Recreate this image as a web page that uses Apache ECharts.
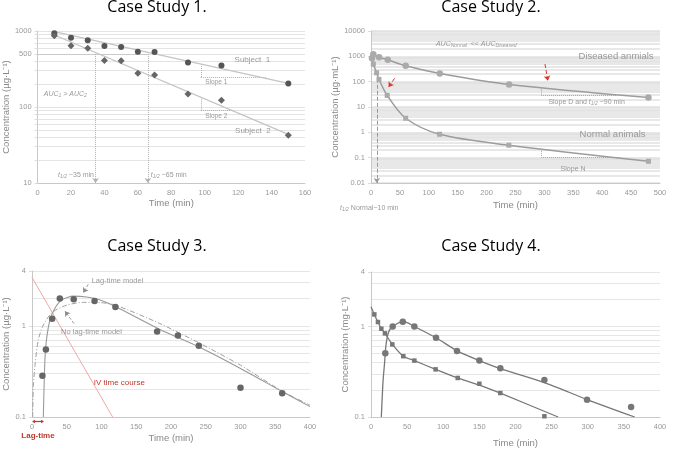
<!DOCTYPE html>
<html><head><meta charset="utf-8">
<script src="https://cdn.jsdelivr.net/npm/echarts@6/dist/echarts.min.js"></script>
<style>html,body{margin:0;padding:0;background:#fff}#c{width:685px;height:449px}</style>
</head><body><div id="c"></div>
<script>
// ---------- Case Study 1 ----------
const cs1Time = [10, 20, 30, 40, 50, 60, 70, 90, 110, 150];
const cs1Subject1 = [931, 817, 753, 634, 615, 534, 529, 386, 352, 204];
const cs1Subject2 = [868, 641, 591, 410, 406, 277, 263, 148, 123, 42.5];
const cs1FitTime = [10, 150];
const cs1Fit1 = [980, 205];
const cs1Fit2 = [886, 43.7];
const cs1YLabels = [10, 100, 500, 1000];

// ---------- Case Study 2 ----------
const cs2DisTime = [1.7, 4, 14, 29, 60, 119, 239, 480];
const cs2Diseased = [832, 1200, 912, 733, 424, 212, 78, 23.8];
const cs2DisFitTime = [4, 14, 29, 60, 119, 239, 480];
const cs2DisFit = [1200, 912, 733, 424, 212, 78, 23.8];
const cs2NorTime = [4, 9.7, 13.8, 28, 60, 118.6, 238.5, 480];
const cs2Normal = [495, 224, 123, 28.6, 3.6, 0.84, 0.31, 0.072];
const cs2NorFitTime = [1.7, 4, 9.7, 13.8, 28, 60, 118.6, 238.5, 480];
const cs2NorFit = [832, 495, 224, 123, 28.6, 3.6, 0.84, 0.31, 0.072];
const cs2YLabels = [0.01, 0.1, 1, 10, 100, 1000, 10000];

// ---------- Case Study 3 ----------
const cs3Time = [15, 20, 29, 40, 60, 90, 120, 180, 210, 240, 300, 360];
const cs3Conc = [0.283, 0.551, 1.20, 2.0, 1.96, 1.87, 1.61, 0.867, 0.784, 0.604, 0.21, 0.182];
const cs3LagTime = [16.3, 17.3, 18.7, 21.1, 25.9, 33, 42.7, 59.4, 78.6, 98, 120, 184, 240, 300, 360, 400];
const cs3LagFit = [0.1, 0.205, 0.44, 0.73, 1.16, 1.56, 1.92, 2.12, 2.07, 1.92, 1.63, 0.914, 0.589, 0.34, 0.19, 0.13];
const cs3NoLagTime = [1, 2, 4.3, 9, 16.3, 29.3, 50, 74, 98, 120, 184, 240, 300, 360, 400];
const cs3NoLagFit = [0.1, 0.223, 0.37, 0.70, 1.02, 1.41, 1.69, 1.81, 1.80, 1.69, 1.06, 0.652, 0.37, 0.192, 0.135];
const cs3IvTime = [0, 116];
const cs3IvFit = [3.4, 0.1];
const cs3YLabels = [0.1, 1, 4];

// ---------- Case Study 4 ----------
const cs4OralTime = [19.8, 30, 44, 60, 90, 119, 150, 179, 240, 299, 360];
const cs4Oral = [0.505, 1.0, 1.13, 1.0, 0.752, 0.536, 0.422, 0.345, 0.256, 0.155, 0.129];
const cs4IvTime = [4.6, 9.6, 14.3, 19.3, 29.5, 44.7, 60, 89.4, 120, 150, 179, 240];
const cs4Iv = [1.36, 1.12, 0.945, 0.84, 0.634, 0.47, 0.42, 0.336, 0.27, 0.233, 0.184, 0.102];
const cs4OralFitTime = [14.3, 16.6, 18.9, 20.7, 24.4, 30, 45, 60, 90, 120, 150, 180, 240, 300, 365];
const cs4OralFit = [0.1, 0.243, 0.405, 0.62, 0.87, 1.0, 1.14, 1.0, 0.75, 0.535, 0.42, 0.34, 0.24, 0.155, 0.1];
const cs4IvFitTime = [0, 4.6, 9.6, 14.3, 19.3, 29.5, 44.7, 60, 89.4, 120, 150, 180, 259];
const cs4IvFit = [1.65, 1.36, 1.12, 0.945, 0.84, 0.634, 0.47, 0.42, 0.336, 0.27, 0.225, 0.182, 0.1];
const cs4YLabels = [0.1, 1, 4];

// ---------- helpers ----------
const FONT = 'Liberation Sans';
const pairs = (xs, ys) => xs.map((x, i) => [x, ys[i]]);
function logGridValues(lo, hi) {
  const out = [];
  for (let e = Math.floor(Math.log10(lo)); e <= Math.ceil(Math.log10(hi)); e++) {
    for (let m = 1; m <= 9; m++) {
      const v = +(m * Math.pow(10, e)).toPrecision(6);
      if (v >= lo * 0.999 && v <= hi * 1.001) out.push(v);
    }
  }
  return out;
}
function gridSeries(idx, lo, hi, color, width) {
  return {
    type: 'line', xAxisIndex: idx, yAxisIndex: idx, data: [], z: 0, silent: true,
    markLine: {
      z: 0, silent: true, symbol: ['none', 'none'], animation: false, label: { show: false },
      lineStyle: { color: color, width: width || 1, type: 'solid' }, emphasis: { disabled: true },
      data: logGridValues(lo, hi).map(v => ({ yAxis: v }))
    }
  };
}
function xAx(idx, max, interval, nameGap) {
  return {
    type: 'value', gridIndex: idx, min: 0, max: max, interval: interval,
    name: 'Time (min)', nameLocation: 'middle', nameGap: nameGap,
    nameTextStyle: { color: '#888', fontSize: 9.5, fontFamily: FONT },
    axisLine: { lineStyle: { color: '#c8c8c8' } }, axisTick: { show: false }, splitLine: { show: false },
    axisLabel: { color: '#999', fontSize: 7.5, fontFamily: FONT, margin: 6 }
  };
}
function yAx(idx, min, max, labels, name, nameGap, tickVals) {
  return {
    type: 'log', logBase: 10, gridIndex: idx, min: min, max: max,
    name: name, nameLocation: 'middle', nameGap: nameGap,
    nameTextStyle: { color: '#888', fontSize: 9.5, fontFamily: FONT },
    axisLine: { show: true, lineStyle: { color: '#c8c8c8' } },
    axisTick: { show: true, length: 3, lineStyle: { color: '#ddd' }, customValues: tickVals },
    splitLine: { show: false },
    axisLabel: { color: '#999', fontSize: 7.5, fontFamily: FONT, margin: 6, customValues: labels, formatter: v => String(v) }
  };
}
const richTxt = {
  i: { fontStyle: 'italic', fontSize: 7, color: '#999', fontFamily: FONT },
  s: { fontStyle: 'italic', fontSize: 5, color: '#999', fontFamily: FONT, verticalAlign: 'bottom', padding: [3, 0, 0, 0] },
  n: { fontSize: 7, color: '#999', fontFamily: FONT }
};
function textPoints(idx, items, fontSize, color) {
  return {
    type: 'scatter', xAxisIndex: idx, yAxisIndex: idx, data: [], silent: true, z: 5,
    markPoint: {
      silent: true, symbol: 'circle', symbolSize: 0, animation: false,
      itemStyle: { color: 'transparent' },
      label: { show: true, position: 'inside', color: color, fontSize: fontSize, fontFamily: FONT, rich: richTxt },
      data: items.map(t => ({ coord: t.c, label: { formatter: t.t } }))
    }
  };
}
function lineMarks(idx, segs, style, endSymbol) {
  return {
    type: 'scatter', xAxisIndex: idx, yAxisIndex: idx, data: [], silent: true, z: 3,
    markLine: {
      z: 1, silent: true, animation: false, symbol: ['none', endSymbol || 'none'], symbolSize: 5,
      label: { show: false }, lineStyle: style, emphasis: { disabled: true },
      data: segs.map(s => [{ coord: s[0] }, { coord: s[1] }])
    }
  };
}
const titleStyle = { fontFamily: 'Open Sans', fontSize: 16, fontWeight: 'normal', color: '#000' };

const chart = echarts.init(document.getElementById('c'), null, { renderer: 'canvas' });
chart.setOption({
  animation: false,
  backgroundColor: '#fff',
  title: [
    { text: 'Case Study 1.', left: 157, top: -1, textAlign: 'center', padding: 0, textStyle: titleStyle },
    { text: 'Case Study 2.', left: 491, top: -1, textAlign: 'center', padding: 0, textStyle: titleStyle },
    { text: 'Case Study 3.', left: 157, top: 238, textAlign: 'center', padding: 0, textStyle: titleStyle },
    { text: 'Case Study 4.', left: 491, top: 238, textAlign: 'center', padding: 0, textStyle: titleStyle }
  ],
  grid: [
    { left: 31, top: 31, width: 274, height: 152 },
    { left: 371, top: 31, width: 289, height: 152 },
    { left: 32, top: 271, width: 278, height: 146 },
    { left: 371, top: 272, width: 289, height: 145 }
  ],
  xAxis: [xAx(0, 160, 20, 15), xAx(1, 500, 50, 17), xAx(2, 400, 50, 16), xAx(3, 400, 50, 21)],
  yAxis: [
    yAx(0, 10, 1000, cs1YLabels, 'Concentration (µg·L⁻¹)', 19, logGridValues(10, 1000)),
    yAx(1, 0.01, 10000, cs2YLabels, 'Concentration (µg·mL⁻¹)', 31, cs2YLabels),
    yAx(2, 0.1, 4, cs3YLabels, 'Concentration (µg·L⁻¹)', 19, cs3YLabels),
    yAx(3, 0.1, 4, cs4YLabels, 'Concentration (mg·L⁻¹)', 17, cs4YLabels)
  ],
  graphic: [
    { type: 'text', x: 340, y: 208, style: { text: '{i|t}{s|1/2}{n| Normal~10 min}', rich: richTxt, textVerticalAlign: 'middle', fill: '#999' } },
    { type: 'text', x: 38, y: 436, style: { text: 'Lag-time', fontSize: 8, fontWeight: 'bold', fontFamily: FONT, fill: '#c0392b', textAlign: 'center', textVerticalAlign: 'middle' } },
    { type: 'line', shape: { x1: 33, y1: 421.5, x2: 43, y2: 421.5 }, style: { stroke: '#c0392b', lineWidth: 1.2 } },
    { type: 'polygon', shape: { points: [[32, 421.5], [35, 419.8], [35, 423.2]] }, style: { fill: '#c0392b' } },
    { type: 'polygon', shape: { points: [[44, 421.5], [41, 419.8], [41, 423.2]] }, style: { fill: '#c0392b' } }
  ],
  series: [
    // ===== Panel 1 =====
    gridSeries(0, 10, 1000, '#e4e4e4'),
    { type: 'line', xAxisIndex: 0, yAxisIndex: 0, data: pairs(cs1FitTime, cs1Fit1), showSymbol: false, lineStyle: { color: '#c4c4c4', width: 1.3 }, silent: true, z: 2 },
    { type: 'line', xAxisIndex: 0, yAxisIndex: 0, data: pairs(cs1FitTime, cs1Fit2), showSymbol: false, lineStyle: { color: '#c4c4c4', width: 1.3 }, silent: true, z: 2 },
    { type: 'scatter', name: 'Subject 1', xAxisIndex: 0, yAxisIndex: 0, data: pairs(cs1Time, cs1Subject1), symbol: 'circle', symbolSize: 6, itemStyle: { color: '#555', opacity: 1 }, z: 4 },
    { type: 'scatter', name: 'Subject 2', xAxisIndex: 0, yAxisIndex: 0, data: pairs(cs1Time, cs1Subject2), symbol: 'diamond', symbolSize: 7, itemStyle: { color: '#666', opacity: 1 }, z: 4 },
    lineMarks(0, [
      [[97.7, 368], [97.7, 246]], [[97.7, 246], [136.6, 246]],
      [[97.7, 134], [97.7, 91]], [[97.7, 91], [118, 91]],
      [[0, 500], [66, 500]]
    ], { color: '#b0b0b0', width: 1, type: 'dotted' }),
    lineMarks(0, [
      [[34.7, 500], [34.7, 10]], [[66, 500], [66, 10]]
    ], { color: '#b0b0b0', width: 1, type: 'dotted' }, 'arrow'),
    textPoints(0, [
      { c: [128.5, 415], t: 'Subject  1' },
      { c: [128.8, 48.3], t: 'Subject  2' }
    ], 8, '#999'),
    textPoints(0, [
      { c: [106.9, 213], t: 'Slope 1' },
      { c: [106.9, 76.2], t: 'Slope 2' },
      { c: [16.6, 148], t: '{i|AUC}{s|1}{i| > AUC}{s|2}' },
      { c: [23, 12.7], t: '{i|t}{s|1/2}{n| ~35 min}' },
      { c: [78.5, 12.7], t: '{i|t}{s|1/2}{n| ~65 min}' }
    ], 6.5, '#999'),

    // ===== Panel 2 =====
    gridSeries(1, 0.01, 10000, '#e0e0e0', 1.5),
    { type: 'line', xAxisIndex: 1, yAxisIndex: 1, data: pairs(cs2DisFitTime, cs2DisFit), showSymbol: false, smooth: 0.3, lineStyle: { color: '#9c9c9c', width: 1.5 }, silent: true, z: 2 },
    { type: 'line', xAxisIndex: 1, yAxisIndex: 1, data: pairs(cs2NorFitTime, cs2NorFit), showSymbol: false, smooth: 0.3, lineStyle: { color: '#9c9c9c', width: 1.5 }, silent: true, z: 2 },
    { type: 'scatter', name: 'Diseased', xAxisIndex: 1, yAxisIndex: 1, data: pairs(cs2DisTime, cs2Diseased), symbol: 'circle', symbolSize: 6.5, itemStyle: { color: '#aaa', opacity: 1 }, z: 4 },
    { type: 'scatter', name: 'Normal', xAxisIndex: 1, yAxisIndex: 1, data: pairs(cs2NorTime, cs2Normal), symbol: 'rect', symbolSize: 5, itemStyle: { color: '#aaa', opacity: 1 }, z: 4 },
    lineMarks(1, [
      [[294, 59.5], [294, 29.4]], [[294, 29.4], [425, 29.4]],
      [[294, 0.222], [294, 0.1]], [[294, 0.1], [430, 0.1]]
    ], { color: '#aaa', width: 1, type: 'dotted' }),
    lineMarks(1, [[[10, 224], [10, 0.01]]], { color: '#999', width: 1, type: 'dashed' }, 'arrow'),
    lineMarks(1, [
      [[301, 495], [306, 108]], [[40.8, 134.6], [30.4, 61]]
    ], { color: '#d9342b', width: 1 }, 'arrow'),
    textPoints(1, [
      { c: [424, 1025], t: 'Diseased anmials' },
      { c: [418, 0.843], t: 'Normal animals' }
    ], 9.5, '#999'),
    textPoints(1, [
      { c: [182, 3060], t: '{i|AUC}{s|Normal}{n|  << }{i|AUC}{s|Diseased}' },
      { c: [373, 15.5], t: '{n|Slope D and }{i|t}{s|1/2}{n| ~90 min}' },
      { c: [349.6, 0.0347], t: 'Slope N' }
    ], 7, '#999'),

    // ===== Panel 3 =====
    gridSeries(2, 0.1, 4, '#e6e6e6'),
    { type: 'line', xAxisIndex: 2, yAxisIndex: 2, data: pairs(cs3IvTime, cs3IvFit), showSymbol: false, lineStyle: { color: '#eba9a9', width: 1 }, silent: true, z: 2 },
    { type: 'line', xAxisIndex: 2, yAxisIndex: 2, data: pairs(cs3NoLagTime, cs3NoLagFit), showSymbol: false, smooth: 0.25, lineStyle: { color: '#a0a0a0', width: 1, type: [5, 2, 1, 2] }, silent: true, z: 2 },
    { type: 'line', xAxisIndex: 2, yAxisIndex: 2, data: pairs(cs3LagTime, cs3LagFit), showSymbol: false, smooth: 0.25, lineStyle: { color: '#999', width: 1.1 }, silent: true, z: 2 },
    { type: 'scatter', name: 'Observed', xAxisIndex: 2, yAxisIndex: 2, data: pairs(cs3Time, cs3Conc), symbol: 'circle', symbolSize: 6.5, itemStyle: { color: '#666', opacity: 1 }, z: 4 },
    lineMarks(2, [
      [[81, 2.86], [73.8, 2.31]], [[60.4, 1.06], [47.5, 1.45]]
    ], { color: '#888', width: 0.8 }, 'arrow'),
    textPoints(2, [
      { c: [123, 3.13], t: 'Lag-time model' },
      { c: [85.6, 0.86], t: 'No lag-time model' }
    ], 7.5, '#999'),
    textPoints(2, [
      { c: [125.6, 0.239], t: 'IV time course' }
    ], 8, '#c0392b'),

    // ===== Panel 4 =====
    gridSeries(3, 0.1, 4, '#e6e6e6'),
    { type: 'line', xAxisIndex: 3, yAxisIndex: 3, data: pairs(cs4OralFitTime, cs4OralFit), showSymbol: false, smooth: 0.25, lineStyle: { color: '#777', width: 1.3 }, silent: true, z: 2 },
    { type: 'line', xAxisIndex: 3, yAxisIndex: 3, data: pairs(cs4IvFitTime, cs4IvFit), showSymbol: false, smooth: 0.25, lineStyle: { color: '#777', width: 1.3 }, silent: true, z: 2 },
    { type: 'scatter', name: 'Oral', xAxisIndex: 3, yAxisIndex: 3, data: pairs(cs4OralTime, cs4Oral), symbol: 'circle', symbolSize: 6.5, itemStyle: { color: '#777', opacity: 1 }, z: 4 },
    { type: 'scatter', name: 'IV', xAxisIndex: 3, yAxisIndex: 3, data: pairs(cs4IvTime, cs4Iv), symbol: 'rect', symbolSize: 4.5, itemStyle: { color: '#777', opacity: 1 }, z: 4 }
  ]
});
</script>
</body></html>
